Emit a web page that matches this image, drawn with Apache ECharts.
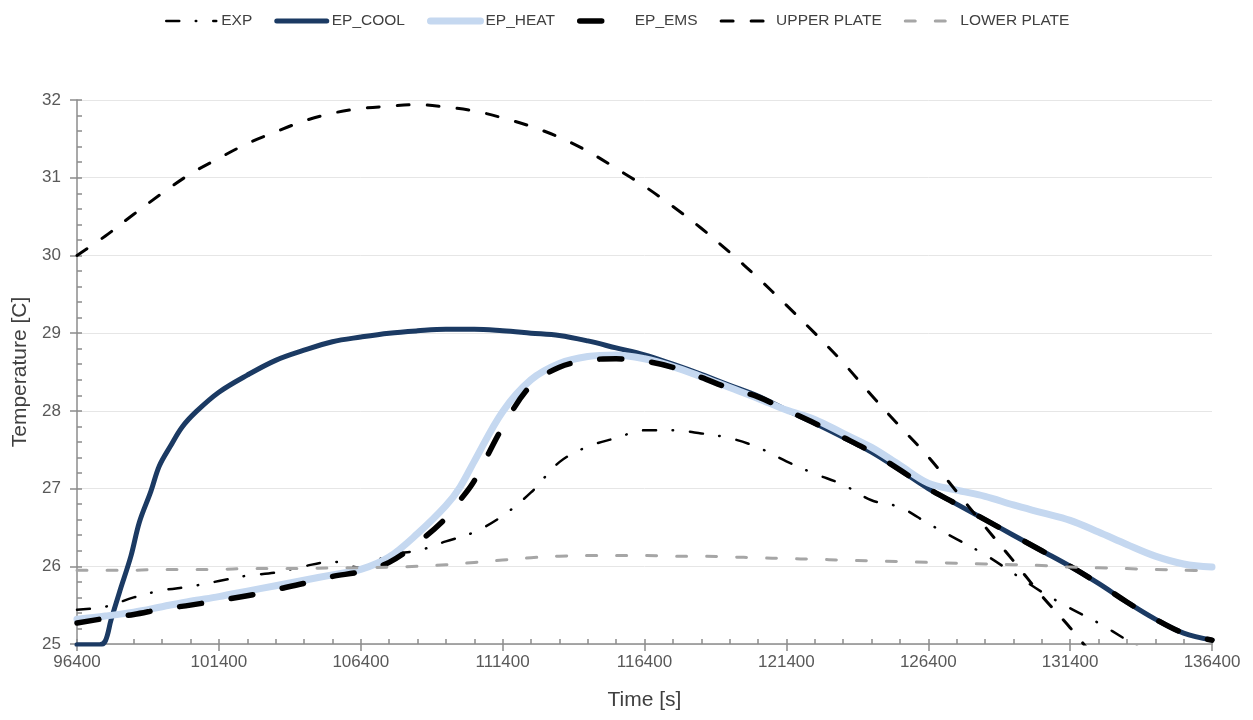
<!DOCTYPE html>
<html>
<head>
<meta charset="utf-8">
<script src="https://cdn.jsdelivr.net/npm/echarts@6/dist/echarts.min.js"></script>
<style>html,body{margin:0;padding:0;background:#fff}#c{width:1253px;height:720px}</style>
</head>
<body>
<div id="c"></div>
<script>
// ---- tick labels ----
const xTickLabels = [96400, 101400, 106400, 111400, 116400, 121400, 126400, 131400, 136400];
const xMinorTicks = [96400, 97400, 98400, 99400, 100400, 101400, 102400, 103400, 104400, 105400,
  106400, 107400, 108400, 109400, 110400, 111400, 112400, 113400, 114400, 115400, 116400,
  117400, 118400, 119400, 120400, 121400, 122400, 123400, 124400, 125400, 126400, 127400,
  128400, 129400, 130400, 131400, 132400, 133400, 134400, 135400, 136400];
const yTickLabels = [25, 26, 27, 28, 29, 30, 31, 32];
const seriesNames = ['EXP', 'EP_COOL', 'EP_HEAT', 'EP_EMS', 'UPPER PLATE', 'LOWER PLATE'];

// ---- time bases [s] ----
const time1k = [96400, 97400, 98400, 99400, 100400, 101400, 102400, 103400, 104400, 105400,
  106400, 107400, 108400, 109400, 110400, 111400, 112400, 113400, 114400, 115400, 116400,
  117400, 118400, 119400, 120400, 121400, 122400, 123400, 124400, 125400, 126400, 127400,
  128400, 129400, 130400, 131400, 132400, 133400, 134400, 135400, 136400];
const timeKink = [96400, 97400, 98400, 99400, 100400, 101400, 102400, 103400, 104400, 105400,
  106400, 107400, 108400, 109400, 109900, 110400, 111400, 112400, 113400, 114400, 115400, 116400,
  117400, 118400, 119400, 120400, 121400, 122400, 123400, 124400, 125400, 126400, 127400,
  128400, 129400, 130400, 131400, 132400, 133400, 134400, 135400, 136400];
const coolTime = [96400, 97200, 97400, 97600, 97900, 98300, 98600, 99000, 99300, 99700, 100100, 100600,
  101400, 102400, 103400, 104400, 105400, 106400, 107400, 108400, 109400, 110400, 111400,
  112400, 113400, 114400, 115400, 116400, 117400, 118400, 119400, 120400, 121400, 122400,
  123400, 124400, 125400, 126400, 127400, 128400, 129400, 130400, 131400, 132400, 133400,
  134400, 135400, 136400];

// ---- temperatures [C] ----
const expTemp = [25.44, 25.48, 25.60, 25.69, 25.74, 25.81, 25.88, 25.92, 26.00, 26.06,
  25.98, 26.15, 26.20, 26.32, 26.44, 26.65, 26.95, 27.34, 27.54, 27.65, 27.75, 27.75,
  27.71, 27.65, 27.53, 27.35, 27.19, 27.05, 26.85, 26.76, 26.55, 26.35, 26.15, 25.91,
  25.67, 25.46, 25.27, 25.05, 24.82];
const coolTemp = [24.99, 24.99, 25.04, 25.31, 25.67, 26.13, 26.57, 26.96, 27.29, 27.55, 27.79, 27.99,
  28.24, 28.46, 28.65, 28.78, 28.89, 28.95, 29.00, 29.03, 29.05, 29.05, 29.03, 29.00,
  28.97, 28.90, 28.81, 28.72, 28.60, 28.47, 28.33, 28.19, 28.01, 27.84, 27.66, 27.47,
  27.24, 27.00, 26.80, 26.60, 26.40, 26.20, 26.00, 25.78, 25.54, 25.32, 25.14, 25.05];
const heatTemp = [25.32, 25.36, 25.41, 25.48, 25.55, 25.61, 25.68, 25.75, 25.82, 25.89,
  25.96, 26.12, 26.42, 26.78, 27.02, 27.35, 27.99, 28.40, 28.61, 28.70, 28.72, 28.67,
  28.57, 28.44, 28.30, 28.16, 28.01, 27.89, 27.71, 27.53, 27.30, 27.07, 26.98, 26.90,
  26.79, 26.69, 26.59, 26.44, 26.28, 26.13, 26.03, 25.99];
const emsTemp = [25.27, 25.33, 25.38, 25.45, 25.50, 25.56, 25.62, 25.70, 25.78, 25.87,
  25.93, 26.05, 26.30, 26.62, 26.85, 27.10, 27.79, 28.33, 28.56, 28.65, 28.67, 28.64,
  28.56, 28.43, 28.29, 28.18, 28.01, 27.84, 27.66, 27.47, 27.24, 27.00, 26.80, 26.60,
  26.40, 26.20, 26.00, 25.78, 25.54, 25.32, 25.14, 25.05];
const upperTemp = [30.00, 30.25, 30.53, 30.80, 31.05, 31.25, 31.44, 31.59, 31.73, 31.83,
  31.89, 31.92, 31.94, 31.91, 31.86, 31.77, 31.66, 31.52, 31.34, 31.12, 30.89, 30.63,
  30.35, 30.04, 29.71, 29.36, 29.00, 28.62, 28.20, 27.80, 27.41, 26.96, 26.51, 26.07,
  25.62, 25.21, 24.76];
const lowerTemp = [25.95, 25.95, 25.95, 25.96, 25.96, 25.96, 25.97, 25.97, 25.97, 25.98,
  25.98, 25.99, 26.00, 26.02, 26.05, 26.08, 26.11, 26.13, 26.14, 26.14, 26.14, 26.13,
  26.13, 26.12, 26.11, 26.10, 26.09, 26.08, 26.07, 26.06, 26.05, 26.04, 26.03, 26.02,
  26.01, 25.99, 25.98, 25.97, 25.96, 25.95, 25.94];

const zip = (ts, vs) => vs.map((v, i) => [ts[i], v]);
const FONT = 'Liberation Sans';

function mk(name, data, color, width, type, z) {
  return {
    name, type: 'line', data, symbol: 'none', showSymbol: false,
    smooth: 0.35, clip: true, z: z,
    lineStyle: { color, width, type, cap: 'round', join: 'round' },
    itemStyle: { color },
    emphasis: { disabled: true }
  };
}

const chart = echarts.init(document.getElementById('c'), null, { renderer: 'canvas' });
chart.setOption({
  animation: false,
  backgroundColor: '#ffffff',
  legend: {
    top: 8, left: 160, itemWidth: 50, itemHeight: 14, itemGap: 22,
    itemStyle: { opacity: 0 },
    lineStyle: { width: 'inherit' },
    textStyle: { fontFamily: FONT, fontSize: 15.5, color: '#404040' },
    data: seriesNames
  },
  grid: { left: 77, right: 41, top: 100, bottom: 76, containLabel: false },
  xAxis: [{
    type: 'value', min: 96400, max: 136400, position: 'bottom',
    name: 'Time [s]', nameLocation: 'middle', nameGap: 46,
    nameTextStyle: { fontFamily: FONT, fontSize: 21, color: '#404040' },
    axisLine: { show: true, lineStyle: { color: '#8c8c8c', width: 1.5 } },
    axisTick: { show: true, inside: false, length: 7, customValues: xTickLabels, lineStyle: { color: '#8c8c8c', width: 1.5 } },
    axisLabel: { show: true, customValues: xTickLabels, margin: 10, fontFamily: FONT, fontSize: 17, color: '#595959',
      formatter: v => String(v) },
    splitLine: { show: false }
  }, {
    type: 'value', min: 96400, max: 136400, position: 'bottom',
    axisLine: { show: false },
    axisTick: { show: true, inside: true, length: 5, customValues: xMinorTicks, lineStyle: { color: '#8c8c8c', width: 1.5 } },
    axisLabel: { show: false },
    splitLine: { show: false }
  }],
  yAxis: [{
    type: 'value', min: 25, max: 32, interval: 1, position: 'left',
    name: 'Temperature [C]', nameLocation: 'middle', nameGap: 46, nameRotate: 90,
    nameTextStyle: { fontFamily: FONT, fontSize: 21, color: '#404040' },
    axisLine: { show: true, lineStyle: { color: '#8c8c8c', width: 1.5 } },
    axisTick: { show: true, inside: false, length: 7, lineStyle: { color: '#8c8c8c', width: 1.5 } },
    axisLabel: { show: true, margin: 16, fontFamily: FONT, fontSize: 17, color: '#595959',
      customValues: yTickLabels, formatter: v => String(v) },
    splitLine: { show: true, lineStyle: { color: '#e6e6e6', width: 1 } }
  }, {
    type: 'value', min: 25, max: 32, interval: 1, position: 'left',
    axisLine: { show: false },
    axisTick: { show: true, inside: true, length: 5, lineStyle: { color: '#8c8c8c', width: 1.5 } },
    minorTick: { show: true, splitNumber: 5, length: 5, lineStyle: { color: '#8c8c8c', width: 1.5 } },
    axisLabel: { show: false },
    splitLine: { show: false }
  }],
  series: [
    mk('EXP', zip(time1k, expTemp), '#000000', 2.5, [13, 16.5, 0.5, 17], 2),
    mk('EP_COOL', zip(coolTime, coolTemp), '#1b3a63', 5, 'solid', 3),
    mk('EP_HEAT', zip(timeKink, heatTemp), '#c5d8f0', 7, 'solid', 4),
    mk('EP_EMS', zip(timeKink, emsTemp), '#000000', 5.5, [22, 30], 5),
    mk('UPPER PLATE', zip(time1k, upperTemp), '#000000', 3, [12, 18], 6),
    mk('LOWER PLATE', zip(time1k, lowerTemp), '#a6a6a6', 3, [10, 20], 7)
  ]
});
</script>
</body>
</html>
